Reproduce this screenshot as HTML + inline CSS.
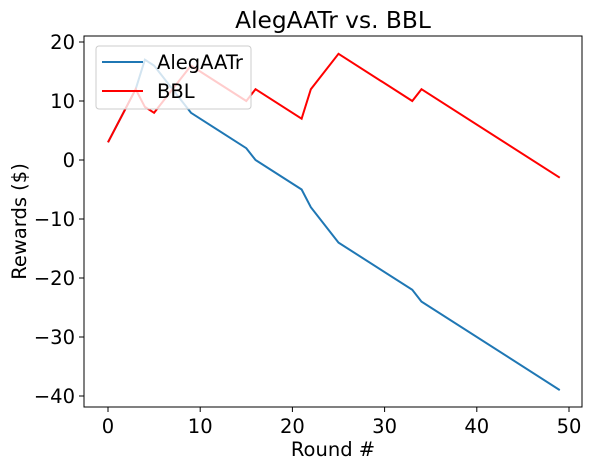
<!DOCTYPE html>
<html><head><meta charset="utf-8"><style>
body{margin:0;background:#fff;width:591px;height:469px;overflow:hidden}
text{font-family:"DejaVu Sans","Liberation Sans",sans-serif}
</style></head><body>
<svg id="chart" width="591" height="469"></svg>
<script>
const rounds=[0,3,4,5,9,15,16,21,22,25,33,34,49];
const alegValues=[3,12,17,16,8,2,0,-5,-8,-14,-22,-24,-39];
const bblValues=[3,12,9,8,16,10,12,7,12,18,10,12,-3];
const xTicks=[0,10,20,30,40,50];
const yTicks=[-40,-30,-20,-10,0,10,20];
const NS="http://www.w3.org/2000/svg";
const svg=document.getElementById('chart');
const L=84,R=582,T=36,B=407;
const FS=19.5;
function xs(v){return 108+(v-0)*(569-108)/50;}
function ys(v){return 160-(v)*(160-42)/20;}
function mk(tag,attrs,parent){const e=document.createElementNS(NS,tag);for(const k in attrs)e.setAttribute(k,attrs[k]);(parent||svg).appendChild(e);return e;}
const title=mk('text',{x:(L+R)/2,y:28,'text-anchor':'middle','font-size':23.3});
title.textContent='AlegAATr vs. BBL';


xTicks.forEach(t=>{
  mk('line',{x1:xs(t),x2:xs(t),y1:B,y2:B+5,stroke:'#000'});
  const tx=mk('text',{x:xs(t),y:B+26,'text-anchor':'middle','font-size':FS});
  tx.textContent=t;
  
  
});
yTicks.forEach(t=>{
  mk('line',{x1:L-5,x2:L,y1:ys(t),y2:ys(t),stroke:'#000'});
  const tx=mk('text',{x:L-9,y:ys(t)+7,'text-anchor':'end','font-size':FS});
  tx.textContent=t<0?'\u2212'+(-t):t;
  
  
});
const xl=mk('text',{x:(L+R)/2,y:456,'text-anchor':'middle','font-size':FS});
xl.textContent='Round #';


const yl=mk('text',{x:0,y:0,'text-anchor':'middle','font-size':FS,transform:`translate(26,${(T+B)/2}) rotate(-90)`});
yl.textContent='Rewards ($)';


function line(vals,color,name){
  const p=mk('polyline',{points:rounds.map((r,i)=>xs(r)+','+ys(vals[i])).join(' '),fill:'none',stroke:color,'stroke-width':2});
  
  
}
line(alegValues,'#1f77b4','alegaatr-line');
line(bblValues,'#ff0000','bbl-line');
const frame=mk('rect',{x:L,y:T,width:R-L,height:B-T,fill:'none',stroke:'#000','stroke-width':1});


const lg=mk('g',{});


mk('rect',{x:96,y:46,width:155,height:63,rx:3,fill:'#fff','fill-opacity':0.8,stroke:'#ccc'},lg);
mk('line',{x1:102,x2:143,y1:62,y2:62,stroke:'#1f77b4','stroke-width':2},lg);
const t1=mk('text',{x:157,y:69,'font-size':FS},lg);t1.textContent='AlegAATr';


mk('line',{x1:102,x2:143,y1:91,y2:91,stroke:'#ff0000','stroke-width':2},lg);
const t2=mk('text',{x:157,y:98,'font-size':FS},lg);t2.textContent='BBL';


</script>
</body></html>
